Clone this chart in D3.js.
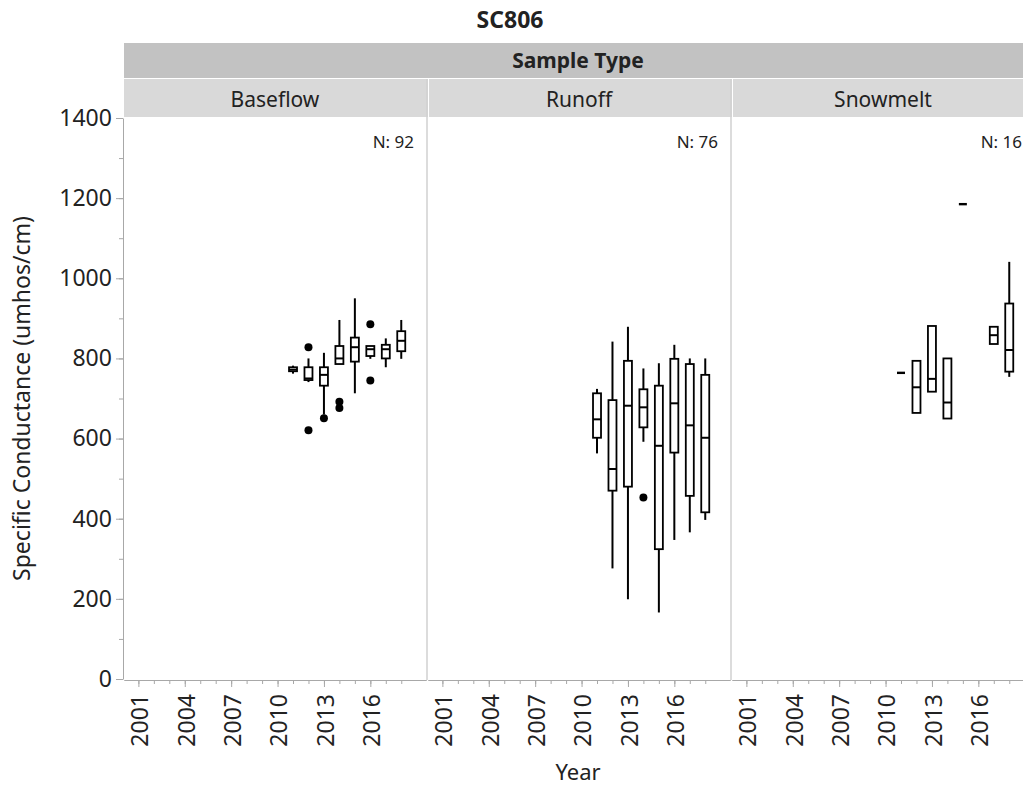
<!DOCTYPE html>
<html>
<head>
<meta charset="utf-8">
<script src="https://cdn.jsdelivr.net/npm/d3@7"></script>
<style>
body { margin: 0; background: #fff; }
text { font-family: "Noto Sans", "Open Sans", sans-serif; fill: #222; }
.axis path, .axis line { stroke: #a8a8a8; }
.box rect { fill: #fff; stroke: #000; stroke-width: 1.8; }
.box line { stroke: #000; stroke-width: 2; }
</style>
</head>
<body>
<svg id="chart" width="1023" height="788"></svg>
<script>
var title = "SC806"
    , groupLabel = "Sample Type"
    , sampleTypes = ["Baseflow", "Runoff", "Snowmelt"]
    , counts = [92, 76, 16]
    , yTicks = [0, 200, 400, 600, 800, 1000, 1200, 1400]
    , yearTicks = [2001, 2004, 2007, 2010, 2013, 2016]
    , minorYears = d3.range(2001, 2019)
    ;

// box stats: min, q1, median, q3, max per year
var baseflowYears = [2011, 2012, 2013, 2014, 2015, 2016, 2017, 2018];
var baseflowMin   = [762, 741, 660, 786, 713, 799, 778, 799];
var baseflowQ1    = [768, 746, 732, 786, 792, 806, 800, 818];
var baseflowMed   = [772, 750, 759, 800, 828, 823, 823, 844];
var baseflowQ3    = [778, 778, 778, 831, 852, 831, 834, 868];
var baseflowMax   = [782, 800, 814, 896, 950, 831, 850, 896];
var baseflowOut   = [[2012, 828], [2012, 621], [2013, 651], [2014, 692], [2014, 676], [2016, 885], [2016, 745]];

var runoffYears = [2011, 2012, 2013, 2014, 2015, 2016, 2017, 2018];
var runoffMin   = [563, 276, 199, 592, 166, 347, 366, 397];
var runoffQ1    = [602, 470, 480, 628, 324, 565, 457, 416];
var runoffMed   = [648, 524, 682, 678, 582, 688, 633, 602];
var runoffQ3    = [713, 696, 794, 723, 732, 799, 786, 759];
var runoffMax   = [724, 842, 879, 775, 788, 834, 800, 800];
var runoffOut   = [[2014, 453]];

var snowmeltYears = [2011, 2012, 2013, 2014, 2015, 2017, 2018];
var snowmeltMin   = [764, 664, 717, 650, 1185, 836, 754];
var snowmeltQ1    = [764, 664, 717, 650, 1185, 836, 767];
var snowmeltMed   = [764, 728, 749, 690, 1185, 858, 821];
var snowmeltQ3    = [764, 794, 881, 800, 1185, 879, 937];
var snowmeltMax   = [764, 794, 881, 800, 1185, 879, 1041];
var snowmeltOut   = [];

function stats(years, mn, q1, md, q3, mx) {
    return years.map(function(yr, i) {
        return {year: yr, min: mn[i], q1: q1[i], med: md[i], q3: q3[i], max: mx[i]};
    });
}

var panels = [
    {boxes: stats(baseflowYears, baseflowMin, baseflowQ1, baseflowMed, baseflowQ3, baseflowMax), out: baseflowOut},
    {boxes: stats(runoffYears, runoffMin, runoffQ1, runoffMed, runoffQ3, runoffMax), out: runoffOut},
    {boxes: stats(snowmeltYears, snowmeltMin, snowmeltQ1, snowmeltMed, snowmeltQ3, snowmeltMax), out: snowmeltOut}
];

(function draw() {
    var svg = d3.select("#chart")
        , left = 124
        , plotTop = 118
        , plotH = 561
        , step = 304
        , panelW = 302
        , boxW = 8
        ;

    var x = d3.scaleLinear().domain([2000.07, 2019.6]).range([0, panelW]);
    var y = d3.scaleLinear().domain([0, 1400]).range([plotH, 0]);

    // title and strip headers
    svg.append("text")
        .attr("x", 510).attr("y", 28)
        .attr("text-anchor", "middle")
        .style("font-size", "23px").style("font-weight", "bold")
        .text(title);

    svg.append("rect")
        .attr("x", left).attr("y", 43)
        .attr("width", 1023 - left).attr("height", 35)
        .attr("fill", "#c2c2c2");

    svg.append("text")
        .attr("x", 578).attr("y", 68)
        .attr("text-anchor", "middle")
        .style("font-size", "21px").style("font-weight", "bold")
        .text(groupLabel);

    var g = svg.append("g").attr("transform", "translate(" + left + "," + plotTop + ")");

    // y axis: minor ticks every 100, labelled every 200
    g.append("g")
        .attr("class", "axis")
        .attr("transform", "translate(-1,0)")
        .call(d3.axisLeft(y).tickValues(d3.range(0, 1401, 100)).tickSize(4).tickFormat(""))
        .call(function(s) { s.select(".domain").remove(); });

    g.append("g")
        .attr("class", "axis")
        .attr("transform", "translate(-1,0)")
        .call(d3.axisLeft(y).tickValues(yTicks).tickSize(7).tickSizeOuter(0).tickFormat(d3.format("d")))
        .selectAll("text")
        .style("font-size", "23px")
        .attr("dx", "-0.05em")
        .attr("fill", "#222");

    sampleTypes.forEach(function(name, i) {
        var px = i * step
            , pg = g.append("g").attr("transform", "translate(" + px + ",0)")
            , p = panels[i]
            ;

        // strip
        svg.append("rect")
            .attr("x", left + px + (i ? 1 : 0)).attr("y", 79)
            .attr("width", panelW + (i ? 1 : 2)).attr("height", 38)
            .attr("fill", "#d9d9d9");

        svg.append("text")
            .attr("x", left + px + panelW / 2).attr("y", 107)
            .attr("text-anchor", "middle")
            .style("font-size", "21px")
            .text(name);

        if (i > 0) {
            svg.append("line")
                .attr("x1", left + px - 1).attr("x2", left + px - 1)
                .attr("y1", 79).attr("y2", plotTop + plotH + 1)
                .attr("stroke", "#d0d0d0").attr("stroke-width", 1.5);
        }

        pg.append("text")
            .attr("x", panelW - 12).attr("y", 30)
            .attr("text-anchor", "end")
            .style("font-size", "17px")
            .attr("fill", "#444")
            .text("N: " + counts[i]);

        // x axis
        pg.append("g")
            .attr("class", "axis")
            .attr("transform", "translate(0," + (plotH + 1) + ")")
            .call(d3.axisBottom(x).tickValues(minorYears).tickSize(4).tickFormat("").tickSizeOuter(0));

        pg.append("g")
            .attr("class", "axis")
            .attr("transform", "translate(0," + (plotH + 1) + ")")
            .call(d3.axisBottom(x).tickValues(yearTicks).tickSize(7).tickSizeOuter(0).tickFormat(d3.format("d")))
            .selectAll("text")
            .style("font-size", "23px")
            .attr("fill", "#222")
            .attr("text-anchor", "end")
            .attr("transform", "rotate(-90)")
            .attr("x", -14)
            .attr("y", 1)
            .attr("dy", "0.36em");

        // boxes
        var boxes = pg.selectAll(".box")
            .data(p.boxes)
            .enter().append("g")
            .attr("class", "box")
            .attr("transform", function(d) { return "translate(" + x(d.year) + ",0)"; });

        boxes.filter(function(d) { return d.max > d.q3; })
            .append("line")
            .attr("y1", function(d) { return y(d.max); })
            .attr("y2", function(d) { return y(d.q3); });

        boxes.filter(function(d) { return d.min < d.q1; })
            .append("line")
            .attr("y1", function(d) { return y(d.q1); })
            .attr("y2", function(d) { return y(d.min); });

        boxes.filter(function(d) { return d.q3 > d.q1; })
            .append("rect")
            .attr("x", -boxW / 2)
            .attr("y", function(d) { return y(d.q3); })
            .attr("width", boxW)
            .attr("height", function(d) { return y(d.q1) - y(d.q3); });

        boxes.append("line")
            .attr("x1", -boxW / 2)
            .attr("x2", boxW / 2)
            .attr("y1", function(d) { return y(d.med); })
            .attr("y2", function(d) { return y(d.med); })
            .style("stroke-width", function(d) { return d.q3 > d.q1 ? 2 : 2.4; });

        pg.selectAll(".outlier")
            .data(p.out)
            .enter().append("circle")
            .attr("class", "outlier")
            .attr("cx", function(d) { return x(d[0]); })
            .attr("cy", function(d) { return y(d[1]); })
            .attr("r", 4)
            .attr("fill", "#000");
    });

    // axis titles
    svg.append("text")
        .attr("transform", "translate(30," + (plotTop + plotH / 2) + ") rotate(-90)")
        .attr("text-anchor", "middle")
        .style("font-size", "23px")
        .text("Specific Conductance (umhos/cm)");

    svg.append("text")
        .attr("x", 578).attr("y", 780)
        .attr("text-anchor", "middle")
        .style("font-size", "22px")
        .text("Year");
})();
</script>
</body>
</html>
